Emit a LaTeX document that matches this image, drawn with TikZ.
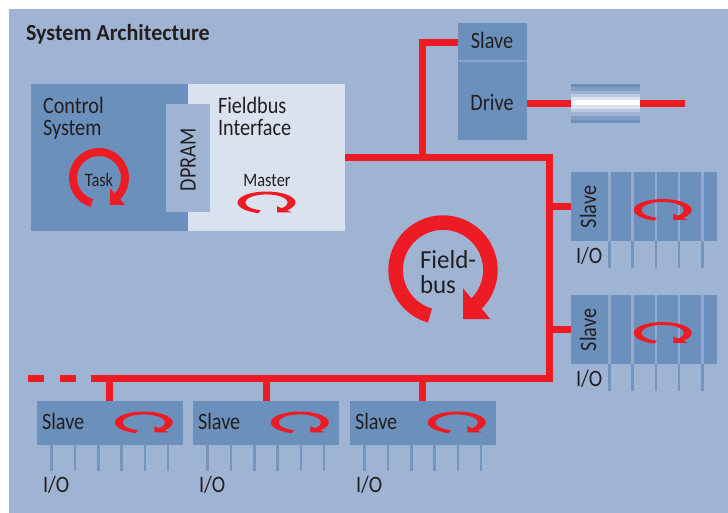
\documentclass[tikz,border=0pt]{standalone}
\usepackage{xcolor}
\usepackage{tikz}
\usepackage{fontspec}
\setmainfont[FakeStretch=.86]{Carlito}
\newfontfamily\satitlefont[FakeStretch=.96]{Carlito}
\usetikzlibrary{
  positioning,
  calc
}
\definecolor{saBack}{HTML}{9FB4D3}
\definecolor{saDark}{HTML}{6B90BC}
\definecolor{saLight}{HTML}{DAE1EF}
\definecolor{saRed}{HTML}{ED1C24}
\definecolor{saText}{HTML}{231F20}
\tikzset{
  saunit/.style={inner sep=0pt, outer sep=0pt, anchor=north west},
  darkbox/.style={saunit, fill=saDark},
  lightbox/.style={saunit, fill=saLight},
  dprambox/.style={saunit, fill=saBack},
  salabel/.style={inner sep=0pt, outer sep=0pt, text=saText, font=\fontsize{23.5}{22}\selectfont, align=left},
  smalllabel/.style={salabel, font=\fontsize{19}{20}\selectfont},
  fieldbus/.style={line width=7pt, saRed},
  stripe/.style={line width=2.5pt, saBack!75!saDark},
  pin/.style={line width=2.5pt, saDark!85!saBack},
  cycle/.pic={
    \fill[saRed] (254:30) arc[start angle=254, end angle=-45, radius=30]
      -- (26,-27) -- (11,-27) -- (11,-10) -- (-45:22)
      arc[start angle=-45, end angle=254, radius=22] -- cycle;
  }
}
\begin{document}
\begin{tikzpicture}[x=1pt, y=1pt]
  \useasboundingbox (0,0) rectangle (728,-513);
  \fill[saBack] (9,-9) rectangle (728,-513);
  \node[salabel, font=\fontsize{23}{24}\selectfont\satitlefont\bfseries, anchor=base west] (title) at (26,-41) {System Architecture};

  % control system and fieldbus interface
  \node[darkbox, minimum width=157pt, minimum height=147pt] (control) at (31,-84) {};
  \node[lightbox, minimum width=157pt, minimum height=147pt, right=0pt of control] (master) {};
  \node[dprambox, minimum width=44pt, minimum height=108pt] (dpram) at (166,-104) {};
  \node[salabel, rotate=90] (dpramtext) at (188,-160) {DPRAM};
  \node[salabel, anchor=north west] (controltext) at (43,-97) {Control\\System};
  \node[salabel, anchor=north west] (mastertext) at (218,-97) {Fieldbus\\Interface};
  \pic at (99,-178) {cycle};
  \node[smalllabel] (task) at (99,-180) {Task};
  \node[smalllabel] (masterlabel) at (267,-180) {Master};
  \pic[xscale=.967, yscale=.367] at (266.5,-202.5) {cycle};

  % drive
  \node[darkbox, minimum width=69pt, minimum height=117pt] (drive) at (458,-23) {};
  \fill[saBack!60!saDark] (458,-60) rectangle (527,-62.5);
  \node[salabel] (slavetext) at (492,-40) {Slave};
  \node[salabel] (drivetext) at (492,-102) {Drive};
  \coordinate (driveout) at (527,-103.3);
  \node[saunit, minimum width=69pt, minimum height=39pt] (motor) at (571,-84) {};
  \foreach \y/\h/\c in {0/3/saDark, 3/4/saDark!60!saBack, 7/3/saBack, 10/3/saBack!50!saLight, 13/3/saLight, 16/5/white, 21/4/saLight, 25/3/saBack!50!saLight, 28/4/saBack, 32/4/saDark!60!saBack, 36/3/saDark}
    \fill[\c] ($(motor.north west)+(0,-\y)$) rectangle ($(motor.north east)+(0,-\y-\h)$);
  \coordinate (shaft) at (685,-103.3);
  \draw[fieldbus] (driveout) -- (motor.west |- driveout);
  \draw[fieldbus] (motor.east |- driveout) -- (shaft);

  % slaves on the right
  \foreach \name/\y in {upper/172, lower/295} {
    \node[darkbox, minimum width=146pt, minimum height=69pt] (\name) at (571,-\y) {};
    \foreach \x in {609.3,632.6,655.9,679.2,702.5} {
      \draw[stripe] (\x,-\y) -- (\x,-\y-69);
      \draw[pin] (\x,-\y-69) -- (\x,-\y-96);
    }
    \node[salabel, rotate=90] (\name text) at (588,-\y-35) {Slave};
    \node[salabel, anchor=base west] (\name io) at (576,-\y-91) {I/O};
    \pic[xscale=.967, yscale=.367] at (662.7,-\y-38) {cycle};
    \coordinate (\name in) at (549.7,-\y-34.4);
    \draw[fieldbus] (\name in) -- (\name.west |- \name in);
  }

  % slaves at the bottom
  \foreach \name/\x/\t in {first/37/109.5, second/193/266.5, third/350/422.5} {
    \node[darkbox, minimum width=146pt, minimum height=44pt] (\name) at (\x,-401) {};
    \foreach \k in {0,1,...,5}
      \draw[pin] ({\x+14.7+23.3*\k},-445) -- ({\x+14.7+23.3*\k},-471);
    \node[salabel, anchor=base west] (\name text) at (\x+5,-429) {Slave};
    \node[salabel, anchor=base west] (\name io) at (\x+6,-492.7) {I/O};
    \pic[xscale=.967, yscale=.367] at (\x+106.8,-422.5) {cycle};
    \coordinate (\name tap) at (\t,-378.4);
    \draw[fieldbus] (\name tap) -- (\name tap |- \name.north);
  }

  % fieldbus
  \coordinate (corner) at (549.7,-157.4);
  \coordinate (busend) at (91,-378.4);
  \coordinate (branch) at (422.5,-157.4);
  \coordinate (dashstart) at (28,-378.4);
  \draw[fieldbus, line join=miter] (master.east |- corner) -- (corner) -- (corner |- busend) -- (busend);
  \draw[fieldbus, dash pattern=on 16pt off 16pt] (dashstart) -- (busend);
  \draw[fieldbus, line join=miter] (branch) |- (drive.west |- 0,-42.3);

  \pic[scale=1.823] at (443,-270) {cycle};
  \node[salabel, font=\fontsize{26}{25.5}\selectfont\satitlefont, anchor=north west] (buslabel) at (420,-250) {Field-\\bus};
\end{tikzpicture}
\end{document}
